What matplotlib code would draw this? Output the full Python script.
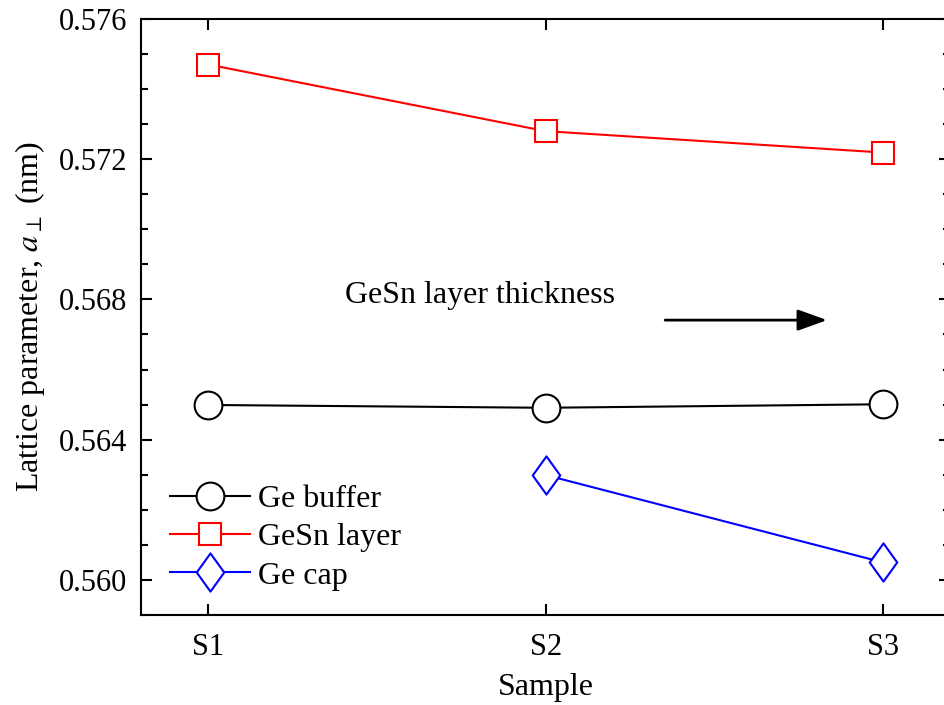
import numpy as np
import matplotlib
matplotlib.use('Agg')
import matplotlib.pyplot as plt
from matplotlib.path import Path
from matplotlib.ticker import MultipleLocator, FormatStrFormatter

plt.rcParams['font.family'] = ['Liberation Serif', 'DejaVu Serif']
plt.rcParams['mathtext.fontset'] = 'stix'

# lattice parameter a_perp (nm) for each sample
samples = ['S1', 'S2', 'S3']
x_pos = [1, 2, 3]
ge_buffer = [0.56499, 0.56491, 0.56501]
gesn_layer = [0.5747, 0.5728, 0.57219]
ge_cap_x = [2, 3]
ge_cap = [0.56299, 0.5605]

# taller-than-wide diamond
diamond = Path([(0, 0.5), (0.36, 0), (0, -0.5), (-0.36, 0), (0, 0.5)],
               [Path.MOVETO, Path.LINETO, Path.LINETO, Path.LINETO, Path.CLOSEPOLY])

fs = 23

fig = plt.figure(figsize=(9.45, 7.05), dpi=100)
ax = fig.add_axes([0.1492, 0.1277, 0.8566, 0.8454])

ax.plot(x_pos, ge_buffer, color='black', lw=1.5, marker='o', ms=20,
        mfc='white', mec='black', mew=1.5, label='Ge buffer')
ax.plot(x_pos, gesn_layer, color='red', lw=1.5, marker='s', ms=15.5,
        mfc='white', mec='red', mew=1.5, label='GeSn layer')
ax.plot(ge_cap_x, ge_cap, color='blue', lw=1.5, marker=diamond, ms=27.5,
        mfc='white', mec='blue', mew=1.5, label='Ge cap')

ax.set_xlim(0.8, 3.2)
ax.set_ylim(0.559, 0.576)
ax.set_xticks(x_pos)
ax.set_xticklabels(samples)
ax.yaxis.set_major_locator(MultipleLocator(0.004))
ax.yaxis.set_minor_locator(MultipleLocator(0.001))
ax.yaxis.set_major_formatter(FormatStrFormatter('%.3f'))

ax.tick_params(which='both', direction='in', top=True, right=True,
               labelsize=22, width=1.5)
ax.tick_params(which='major', length=8)
ax.tick_params(which='minor', length=5)
ax.tick_params(axis='y', which='major', pad=10)
ax.tick_params(axis='x', which='major', pad=13)
for s in ax.spines.values():
    s.set_linewidth(1.5)

ax.set_xlabel('Sample', fontsize=fs, labelpad=8)
ax.set_ylabel(r'Lattice parameter, $a_{\perp}$ (nm)', fontsize=fs, labelpad=8)

ax.text(1.406, 0.5681, 'GeSn layer thickness', fontsize=fs, va='center', ha='left')
ax.annotate('', xy=(2.834, 0.56741), xytext=(2.354, 0.56741),
            arrowprops=dict(arrowstyle='-|>,head_length=1.8,head_width=0.65',
                            color='black', lw=2, shrinkA=0, shrinkB=0))

ax.legend(loc='lower left', bbox_to_anchor=(0.036, 0.041), frameon=False,
          fontsize=fs, handlelength=2.5, handletextpad=0.25,
          labelspacing=0.28, borderpad=0, borderaxespad=0)

fig.savefig('out.png', dpi=100)
